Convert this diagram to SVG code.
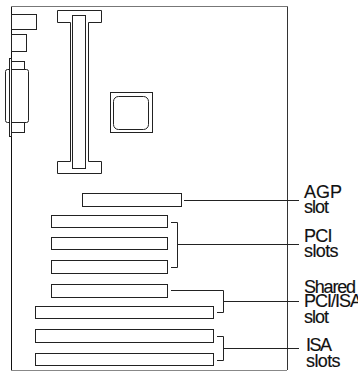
<svg xmlns="http://www.w3.org/2000/svg" width="358" height="371" viewBox="0 0 358 371">
<style>
.s{fill:#fff;stroke:#222;stroke-width:1}
.b{fill:none;stroke:#222;stroke-width:1}
text{font-family:"Liberation Sans",Arial,sans-serif;font-size:18px;fill:#111;stroke:#111;stroke-width:0.15px;letter-spacing:-1px}
</style>
<rect width="358" height="371" fill="#fff"/>
<g id="board">
<path d="M11.500 370V6.500" fill="none" stroke="#111"/>
<path d="M11.500 6.500H287.500" fill="none" stroke="#777"/>
<path d="M287.500 6.500V370" fill="none" stroke="#333"/>
<path d="M11 370.500H287" fill="none" stroke="#888"/>
</g>
<g id="io-connectors">
<rect class="s" x="11.500" y="14.500" width="25" height="15"/>
<rect class="s" x="11.500" y="34.500" width="15" height="17"/>
<rect class="s" x="11.500" y="61.500" width="13" height="71"/>
<rect class="s" x="5.500" y="69.500" width="23" height="53" rx="2"/>
<rect class="s" x="9.500" y="58.500" width="2" height="78"/>
<path class="b" d="M11.500 65V127" stroke-width="2"/>
</g>
<g id="memory-slot">
<path class="s" d="M57.500 10.500H101.500V22.500H88.500V161.500H101.500V173.500H57.500V161.500H70.500V22.500H57.500Z"/>
<rect class="s" x="72.500" y="15.500" width="13" height="153"/>
</g>
<g id="cpu">
<rect class="s" x="110.500" y="92.500" width="42" height="40"/>
<rect class="s" x="113.500" y="96.500" width="35" height="33" rx="5"/>
</g>
<g id="agp-slot"><rect class="s" x="82.500" y="193.500" width="99" height="13"/></g>
<g id="pci-slot-1"><rect class="s" x="51.500" y="215.500" width="116" height="12"/></g>
<g id="pci-slot-2"><rect class="s" x="51.500" y="237.500" width="116" height="12"/></g>
<g id="pci-slot-3"><rect class="s" x="51.500" y="260.500" width="116" height="13"/></g>
<g id="shared-pci-slot"><rect class="s" x="51.500" y="284.500" width="116" height="13"/></g>
<g id="shared-isa-slot"><rect class="s" x="35.500" y="306.500" width="178" height="12"/></g>
<g id="isa-slot-1"><rect class="s" x="35.500" y="329.500" width="178" height="13"/></g>
<g id="isa-slot-2"><rect class="s" x="35.500" y="353.500" width="178" height="12"/></g>
<g id="connectors">
<path class="b" d="M184 200.500H299"/>
<path class="b" d="M171 222.500H177.500V267.500H171M177.500 244.500H299"/>
<path class="b" d="M171 290.500H223.500V312.500H217M223.500 301.500H299"/>
<path class="b" d="M217 336.500H223.500V360.500H217M223.500 348.500H299"/>
</g>
<g id="labels">
<text x="304" y="198" style="letter-spacing:0">AGP</text>
<text x="304" y="213">slot</text>
<text x="304" y="242" style="letter-spacing:-0.7px">PCI</text>
<text x="304" y="257" style="letter-spacing:-0.6px">slots</text>
<text x="304" y="293" style="letter-spacing:-1.2px">Shared</text>
<text x="304" y="307" style="letter-spacing:-1px">PCI/ISA</text>
<text x="304" y="323">slot</text>
<text x="306" y="351" style="letter-spacing:-1.5px">ISA</text>
<text x="306" y="367" style="letter-spacing:-0.6px">slots</text>
</g>
</svg>
